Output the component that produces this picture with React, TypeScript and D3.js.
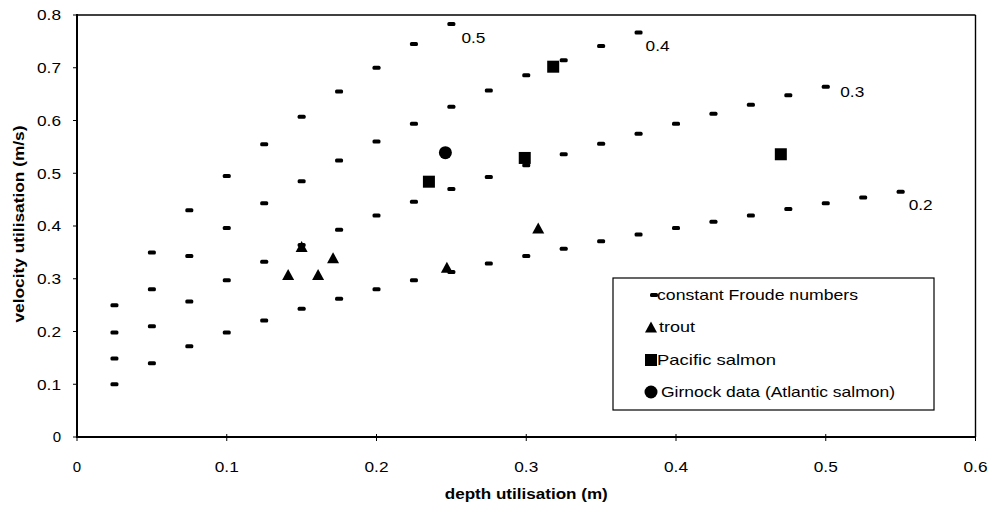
import React from "react";
import * as d3 from "d3";

// ---- data ----
const froudeDepths = [0.025, 0.05, 0.075, 0.1, 0.125, 0.15, 0.175, 0.2, 0.225, 0.25, 0.275, 0.3, 0.325, 0.35, 0.375, 0.4, 0.425, 0.45, 0.475, 0.5, 0.525, 0.55];
const froude05 = [0.25, 0.35, 0.43, 0.495, 0.555, 0.607, 0.655, 0.7, 0.745, 0.783];
const froude04 = [0.198, 0.28, 0.343, 0.396, 0.443, 0.485, 0.524, 0.56, 0.594, 0.626, 0.657, 0.686, 0.714, 0.741, 0.767];
const froude03 = [0.149, 0.21, 0.257, 0.297, 0.332, 0.364, 0.393, 0.42, 0.446, 0.47, 0.493, 0.515, 0.536, 0.556, 0.575, 0.594, 0.613, 0.63, 0.648, 0.664];
const froude02 = [0.1, 0.14, 0.172, 0.198, 0.221, 0.243, 0.262, 0.28, 0.297, 0.313, 0.329, 0.343, 0.357, 0.371, 0.384, 0.396, 0.408, 0.42, 0.432, 0.443, 0.454, 0.465];
const froudeLabels = ["0.5", "0.4", "0.3", "0.2"];

const troutDepth = [0.141, 0.15, 0.161, 0.171, 0.247, 0.308];
const troutVel = [0.308, 0.361, 0.308, 0.34, 0.322, 0.396];
const pacificDepth = [0.235, 0.299, 0.318, 0.47];
const pacificVel = [0.484, 0.529, 0.702, 0.536];
const girnockDepth = [0.246];
const girnockVel = [0.539];

const xTicks = [0, 0.1, 0.2, 0.3, 0.4, 0.5, 0.6];
const yTicks = [0, 0.1, 0.2, 0.3, 0.4, 0.5, 0.6, 0.7, 0.8];
const legendLabels = ["constant Froude numbers", "trout", "Pacific salmon", "Girnock data (Atlantic salmon)"];
const xTitle = "depth utilisation (m)";
const yTitle = "velocity utilisation (m/s)";

// ---- layout ----
const W = 992, H = 506;
const X0 = 77, X1 = 975.5, Y0 = 437, Y1 = 15;
const FONT = "'Liberation Sans', Arial, Helvetica, sans-serif";
const froudeLabelOffsets = [[10, 13.5], [7, 13.6], [14.5, 4.5], [8, 13]];
const legendBox = { x: 613, y: 278, w: 321, h: 132 };
const legendRows = [295, 327, 360, 392];
const legendMarkerX = [654, 651, 651, 651];
const legendTextX = [657, 659, 657, 661];
const legendTextLen = [201, 36, 119, 234];

function Dash({ cx, cy }: { cx: number; cy: number }) {
  return <rect x={cx - 4} y={cy - 2} width={8} height={4} rx={1.5} fill="#000" />;
}
function Tri({ cx, cy }: { cx: number; cy: number }) {
  const p = d3.path();
  p.moveTo(cx, cy - 5.5);
  p.lineTo(cx + 6, cy + 5.5);
  p.lineTo(cx - 6, cy + 5.5);
  p.closePath();
  return <path d={p.toString()} fill="#000" />;
}
function Sq({ cx, cy }: { cx: number; cy: number }) {
  return <rect x={cx - 6} y={cy - 6} width={12} height={12} fill="#000" />;
}
function Circ({ cx, cy }: { cx: number; cy: number }) {
  return <circle cx={cx} cy={cy} r={6.5} fill="#000" />;
}

export default function App() {
  const x = d3.scaleLinear().domain([0, 0.6]).range([X0, X1]);
  const y = d3.scaleLinear().domain([0, 0.8]).range([Y0, Y1]);
  const froudeSeries = [froude05, froude04, froude03, froude02];
  const fmt = (v: number) => (v === 0 ? "0" : d3.format(".1f")(v));

  return (
    <div style={{ position: "fixed", left: 0, top: 0, width: W, height: H, background: "#fff" }}>
      <svg width={W} height={H} style={{ display: "block" }} fontFamily={FONT}>
        <rect width={W} height={H} fill="#fff" />
        {/* frame */}
        <line x1={X0} x2={X1} y1={Y1} y2={Y1} stroke="#000" strokeWidth={1.6} />
        <line x1={X1} x2={X1} y1={Y1} y2={Y0} stroke="#000" strokeWidth={1.4} />
        <line x1={X0} x2={X0} y1={Y1 - 1} y2={Y0 + 1} stroke="#000" strokeWidth={2} />
        <line x1={X0 - 1} x2={X1} y1={Y0} y2={Y0} stroke="#000" strokeWidth={2} />
        {/* y ticks */}
        {yTicks.map((t) => (
          <g key={"yt" + t}>
            <line x1={X0 - 4} x2={X0 + 1} y1={y(t)} y2={y(t)} stroke="#000" strokeWidth={1} />
            <text
              x={61}
              y={y(t) + 5.4}
              textAnchor="end"
              fontSize={15}
              fill="#000"
              {...(t === 0 ? {} : { textLength: 24, lengthAdjust: "spacingAndGlyphs" })}
            >
              {fmt(t)}
            </text>
          </g>
        ))}
        {/* x ticks */}
        {xTicks.map((t) => (
          <g key={"xt" + t}>
            <line x1={x(t)} x2={x(t)} y1={Y0 - 3} y2={Y0 + 4} stroke="#000" strokeWidth={1} />
            <text
              x={x(t)}
              y={472}
              textAnchor="middle"
              fontSize={15}
              fill="#000"
              {...(t === 0 ? {} : { textLength: 24, lengthAdjust: "spacingAndGlyphs" })}
            >
              {fmt(t)}
            </text>
          </g>
        ))}
        {/* axis titles */}
        <text
          x={(X0 + X1) / 2}
          y={499}
          textAnchor="middle"
          fontSize={14}
          fontWeight="bold"
          textLength={163}
          lengthAdjust="spacingAndGlyphs"
        >
          {xTitle}
        </text>
        <text
          transform={`translate(24,${(Y0 + Y1) / 2 - 2}) rotate(-90)`}
          textAnchor="middle"
          fontSize={14}
          fontWeight="bold"
          textLength={197}
          lengthAdjust="spacingAndGlyphs"
        >
          {yTitle}
        </text>
        {/* Froude points */}
        {froudeSeries.map((s, si) => (
          <g key={"fr" + si}>
            {s.map((v, i) => (
              <Dash key={i} cx={x(froudeDepths[i])} cy={y(v)} />
            ))}
            <text
              x={x(froudeDepths[s.length - 1]) + froudeLabelOffsets[si][0]}
              y={y(s[s.length - 1]) + froudeLabelOffsets[si][1] + 5.4}
              fontSize={15}
              textLength={24}
              lengthAdjust="spacingAndGlyphs"
            >
              {froudeLabels[si]}
            </text>
          </g>
        ))}
        {/* species */}
        {troutDepth.map((d, i) => (
          <Tri key={"t" + i} cx={x(d)} cy={y(troutVel[i])} />
        ))}
        {pacificDepth.map((d, i) => (
          <Sq key={"p" + i} cx={x(d)} cy={y(pacificVel[i])} />
        ))}
        {girnockDepth.map((d, i) => (
          <Circ key={"g" + i} cx={x(d)} cy={y(girnockVel[i])} />
        ))}
        {/* legend */}
        <rect
          x={legendBox.x}
          y={legendBox.y}
          width={legendBox.w}
          height={legendBox.h}
          fill="#fff"
          stroke="#000"
          strokeWidth={1.2}
        />
        <Dash cx={legendMarkerX[0]} cy={legendRows[0]} />
        <Tri cx={legendMarkerX[1]} cy={legendRows[1]} />
        <Sq cx={legendMarkerX[2]} cy={legendRows[2]} />
        <Circ cx={legendMarkerX[3]} cy={legendRows[3]} />
        {legendLabels.map((l, i) => (
          <text
            key={l}
            x={legendTextX[i]}
            y={legendRows[i] + 5.2}
            fontSize={14.5}
            textLength={legendTextLen[i]}
            lengthAdjust="spacingAndGlyphs"
          >
            {l}
          </text>
        ))}
      </svg>
    </div>
  );
}
